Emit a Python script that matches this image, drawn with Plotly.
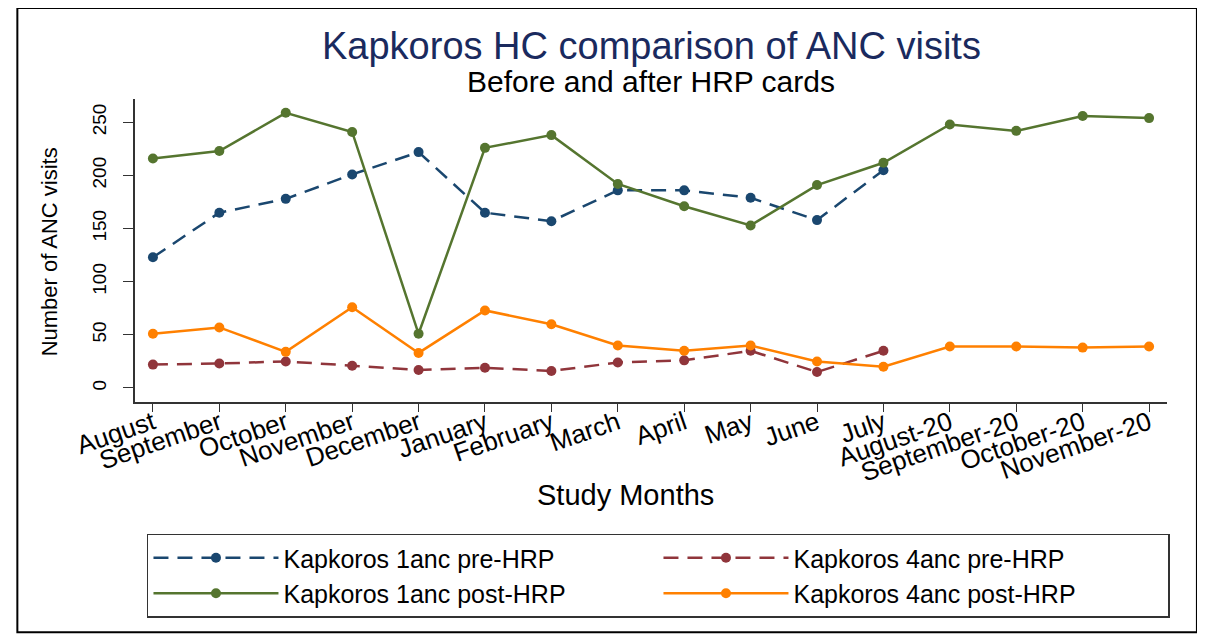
import plotly.graph_objects as go

months = ["August", "September", "October", "November", "December", "January",
          "February", "March", "April", "May", "June", "July",
          "August-20", "September-20", "October-20", "November-20"]

anc1_pre = [123, 165, 178, 201, 222, 165, 157, 186, 186, 179, 158, 205]
anc4_pre = [22, 23, 25, 21, 17, 19, 16, 24, 26, 35, 15, 35]
anc1_post = [216, 223, 259, 241, 51, 226, 238, 192, 171, 153, 191, 212,
             248, 242, 256, 254]
anc4_post = [51, 57, 34, 76, 33, 73, 60, 40, 35, 40, 25, 20, 39, 39, 38, 39]

y_ticks = [0, 50, 100, 150, 200, 250]

FONT = "Liberation Sans, Arial, sans-serif"
xs = list(range(len(months)))

fig = go.Figure()

series = [
    ("Kapkoros 1anc pre-HRP", anc1_pre, "#1a476f", "dash"),
    ("Kapkoros 4anc pre-HRP", anc4_pre, "#90353b", "dash"),
    ("Kapkoros 1anc post-HRP", anc1_post, "#55752f", "solid"),
    ("Kapkoros 4anc post-HRP", anc4_post, "#ff8000", "solid"),
]
for name, vals, col, dash in series:
    fig.add_trace(go.Scatter(
        x=xs[:len(vals)], y=vals, name=name, mode="lines+markers",
        line=dict(color=col, width=2.5, dash="15px,9px" if dash == "dash" else "solid"),
        marker=dict(color=col, size=10),
    ))

# page body adds an 8px offset, so the figure is 8px smaller than the window
fig.update_layout(
    width=1197, height=627,
    paper_bgcolor="white", plot_bgcolor="white",
    margin=dict(l=127, r=38, t=91, b=233, autoexpand=False),
    font=dict(family=FONT, color="black"),
    showlegend=True,
    legend=dict(
        orientation="h", x=0.0116, xanchor="left", y=-0.434, yanchor="top",
        entrywidth=370, itemwidth=125, bordercolor="#333", borderwidth=1.5,
        font=dict(size=25, family=FONT), tracegroupgap=0,
    ),
    xaxis=dict(
        range=[-0.27, 15.27], tickmode="array", tickvals=xs, ticktext=months,
        tickangle=-19, ticks="outside", ticklen=8, tickcolor="#333",
        ticklabelstandoff=-14,
        showline=True, linecolor="#333", linewidth=1.5, showgrid=False,
        zeroline=False, tickfont=dict(size=26),
    ),
    yaxis=dict(
        range=[-13.2, 272], tickvals=y_ticks, tickangle=-90,
        ticks="outside", ticklen=10, tickcolor="#333", ticklabelstandoff=10,
        showline=True, linecolor="#333", linewidth=1.5, showgrid=False,
        zeroline=False, tickfont=dict(size=19),
    ),
    annotations=[
        dict(text="Kapkoros HC comparison of ANC visits", xref="paper", yref="paper",
             x=0.5, y=1.175, yanchor="middle", showarrow=False,
             font=dict(size=38, color="#1a2a5e")),
        dict(text="Before and after HRP cards", xref="paper", yref="paper",
             x=0.5, y=1.058, yanchor="middle", showarrow=False,
             font=dict(size=30, color="black")),
        dict(text="Number of ANC visits", xref="paper", yref="paper",
             x=-0.083, y=0.495, xanchor="center", yanchor="middle", textangle=-90,
             showarrow=False, font=dict(size=22)),
        dict(text="Study Months", xref="paper", yref="paper",
             x=0.475, y=-0.308, xanchor="center", yanchor="middle",
             showarrow=False, font=dict(size=29)),
    ],
    shapes=[
        dict(type="rect", xref="paper", yref="paper",
             x0=-0.114, x1=1.029, y0=-0.76, y1=1.30,
             line=dict(color="black", width=2)),
    ],
)

fig.write_html("out.html")
